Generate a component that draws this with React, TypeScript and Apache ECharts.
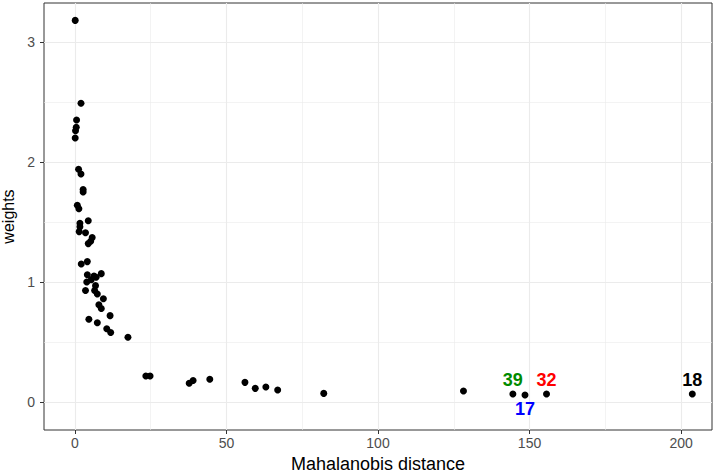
import React, { useEffect, useRef } from "react";
import * as echarts from "echarts";

const distances: number[] = [
  0.1, 2.0, 0.55, 0.45, 0.2, 0.1, 1.2, 2.0, 2.7, 2.7, 0.8, 1.3, 4.4, 1.65, 1.65, 1.4, 3.5, 5.7, 5.2, 4.4,
  4.1, 2.1, 8.7, 4.1, 6.3, 7.0, 3.9, 5.4, 6.8, 3.5, 6.5, 7.4, 9.4, 7.9, 8.7, 11.6, 4.6, 7.4, 10.5, 11.8,
  17.5, 23.4, 24.8, 37.7, 39.0, 44.5, 56.1, 59.5, 63.0, 66.9, 82.1, 128.2,
];
const weights: number[] = [
  3.18, 2.49, 2.35, 2.29, 2.26, 2.2, 1.94, 1.9, 1.77, 1.75, 1.64, 1.61, 1.51, 1.49, 1.46, 1.42, 1.41, 1.37, 1.34, 1.32,
  1.17, 1.15, 1.07, 1.06, 1.05, 1.04, 1.0, 1.02, 0.97, 0.93, 0.93, 0.9, 0.86, 0.81, 0.78, 0.72, 0.69, 0.66, 0.61, 0.58,
  0.54, 0.217, 0.217, 0.156, 0.18, 0.19, 0.164, 0.114, 0.125, 0.1, 0.072, 0.092,
];

const labelIds: string[] = ["39", "17", "32", "18"];
const labelDistances: number[] = [144.5, 148.5, 155.6, 203.7];
const labelWeights: number[] = [0.067, 0.058, 0.067, 0.067];
const labelColors: string[] = ["#008B00", "#0000FF", "#FF0000", "#000000"];
const labelPositions: string[] = ["top", "bottom", "top", "top"];

const xTicks: number[] = [0, 50, 100, 150, 200];
const xMinor: number[] = [25, 75, 125, 175];
const yTicks: number[] = [0, 1, 2, 3];
const yMinor: number[] = [0.5, 1.5, 2.5];

const FONT = "Liberation Sans, Arial, sans-serif";

export default function App() {
  const ref = useRef<HTMLDivElement>(null);
  useEffect(() => {
    if (!ref.current) return;
    const chart = echarts.init(ref.current, null, { renderer: "svg" });
    const gridLines = [
      ...xMinor.map((v) => ({ xAxis: v, lineStyle: { width: 0.6, color: "#EBEBEB", type: "solid" } })),
      ...yMinor.map((v) => ({ yAxis: v, lineStyle: { width: 0.6, color: "#EBEBEB", type: "solid" } })),
      ...xTicks.map((v) => ({ xAxis: v, lineStyle: { width: 1.1, color: "#EBEBEB", type: "solid" } })),
      ...yTicks.map((v) => ({ yAxis: v, lineStyle: { width: 1.1, color: "#EBEBEB", type: "solid" } })),
    ];
    const mainData = distances.map((d, i) => [d, weights[i]]);
    const labData = labelIds.map((id, i) => ({
      value: [labelDistances[i], labelWeights[i]],
      label: {
        show: true,
        formatter: id,
        position: labelPositions[i],
        distance: 1,
        color: labelColors[i],
        opacity: 1,
        fontWeight: "bold",
        fontSize: 18,
        fontFamily: FONT,
      },
    }));
    chart.setOption({
      animation: false,
      backgroundColor: "#FFFFFF",
      grid: {
        left: 44, right: 10, top: 3, bottom: 43,
        containLabel: false, outerBoundsMode: "none",
        show: true, borderColor: "#333333", borderWidth: 1, backgroundColor: "#FFFFFF",
      },
      xAxis: {
        type: "value",
        min: -10.2,
        max: 210.2,
        name: "Mahalanobis distance",
        nameLocation: "middle",
        nameGap: 24,
        nameTextStyle: { color: "#000000", fontSize: 18, fontFamily: FONT },
        axisLine: { show: false, onZero: false },
        splitLine: { show: false },
        axisTick: { show: true, inside: false, customValues: xTicks, length: 4, lineStyle: { color: "#333333" } },
        axisLabel: { customValues: xTicks, color: "#4D4D4D", fontSize: 14, fontFamily: FONT, margin: 6 },
      },
      yAxis: {
        type: "value",
        min: -0.233,
        max: 3.325,
        name: "weights",
        nameLocation: "middle",
        nameGap: 24,
        nameTextStyle: { color: "#000000", fontSize: 16, fontFamily: FONT },
        axisLine: { show: false, onZero: false },
        splitLine: { show: false },
        axisTick: { show: true, inside: false, customValues: yTicks, length: 4, lineStyle: { color: "#333333" } },
        axisLabel: { customValues: yTicks, color: "#4D4D4D", fontSize: 14, fontFamily: FONT, margin: 9 },
      },
      series: [
        {
          type: "scatter",
          data: mainData,
          symbolSize: 7,
          itemStyle: { color: "#000000", opacity: 1 },
          silent: true,
          markLine: { silent: true, symbol: "none", label: { show: false }, data: gridLines, z: 0 },
          z: 3,
        },
        {
          type: "scatter",
          data: labData,
          symbolSize: 7,
          itemStyle: { color: "#000000", opacity: 1 },
          silent: true,
          z: 4,
        },
      ],
    });
    return () => chart.dispose();
  }, []);
  return <div ref={ref} style={{ width: 722, height: 473, position: "absolute", left: 0, top: 0 }} />;
}
